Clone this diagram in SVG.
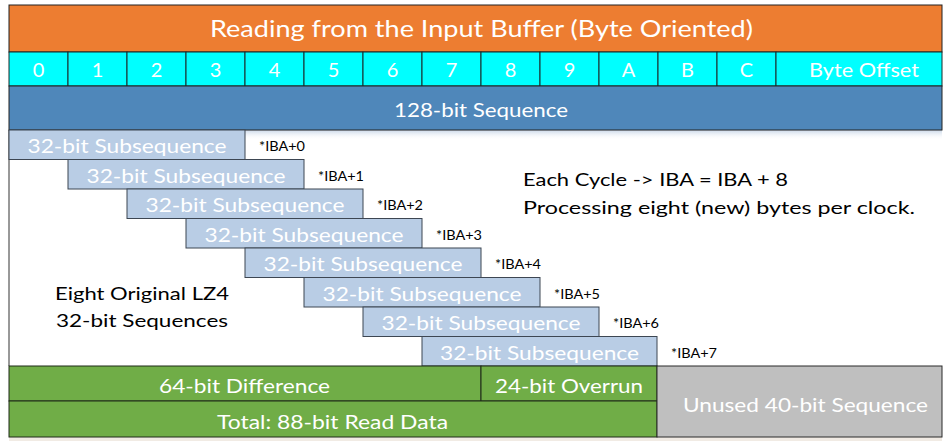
<svg xmlns="http://www.w3.org/2000/svg" width="943" height="441" viewBox="0 0 943 441">
<style>
  text { font-family: Lato, "Open Sans", "Liberation Sans", sans-serif; }
  .wt { fill: #ffffff; }
  .bk { fill: #000000; }
  .title { font-size: 24px; }
  .cell { fill: #00FFFF; stroke: #1a2a2a; stroke-width: 1; }
  .num { font-size: 20px; fill: #ffffff; text-anchor: middle; }
  .sub { fill: #B9CDE5; stroke: #3d4652; stroke-width: 1; }
  .subt { font-size: 20px; fill: #ffffff; text-anchor: middle; }
  .iba { font-size: 12.5px; fill: #000000; }
  .note { font-size: 18px; fill: #000000; }
  .grn { fill: #70AD47; stroke: #1f2a18; stroke-width: 1; }
  .gry { fill: #BFBFBF; stroke: #2a2a2a; stroke-width: 1; }
  .lbl { font-size: 19.5px; fill: #ffffff; text-anchor: middle; }
</style>
<defs>
  <linearGradient id="shadowTop" x1="0" y1="0" x2="0" y2="1">
    <stop offset="0" stop-color="#c9d7e8"/>
    <stop offset="1" stop-color="#ffffff" stop-opacity="0"/>
  </linearGradient>
</defs>
<rect x="0" y="0" width="943" height="441" fill="#ffffff"/>
<rect x="9" y="130" width="933" height="10" fill="url(#shadowTop)"/>
<rect x="9" y="437" width="933" height="4" fill="#f1ebe4"/>

<g id="title">
  <rect x="9" y="5" width="933" height="47" fill="#ED7D31" stroke="#222" stroke-width="1"/>
  <text class="title wt" x="481.5" y="37" text-anchor="middle" textLength="543" lengthAdjust="spacingAndGlyphs">Reading from the Input Buffer (Byte Oriented)</text>
</g>

<g id="byte-offsets">
  <rect class="cell" x="9" y="52" width="59" height="34"/>
  <rect class="cell" x="68" y="52" width="59" height="34"/>
  <rect class="cell" x="127" y="52" width="59" height="34"/>
  <rect class="cell" x="186" y="52" width="59" height="34"/>
  <rect class="cell" x="245" y="52" width="59" height="34"/>
  <rect class="cell" x="304" y="52" width="59" height="34"/>
  <rect class="cell" x="363" y="52" width="59" height="34"/>
  <rect class="cell" x="422" y="52" width="59" height="34"/>
  <rect class="cell" x="481" y="52" width="59" height="34"/>
  <rect class="cell" x="540" y="52" width="59" height="34"/>
  <rect class="cell" x="599" y="52" width="59" height="34"/>
  <rect class="cell" x="658" y="52" width="59" height="34"/>
  <rect class="cell" x="717" y="52" width="59" height="34"/>
  <rect class="cell" x="776" y="52" width="166" height="34"/>
  <text class="num" x="38.5" y="77">0</text>
  <text class="num" x="97.5" y="77">1</text>
  <text class="num" x="156.5" y="77">2</text>
  <text class="num" x="215.5" y="77">3</text>
  <text class="num" x="274.5" y="77">4</text>
  <text class="num" x="333.5" y="77">5</text>
  <text class="num" x="392.5" y="77">6</text>
  <text class="num" x="451.5" y="77">7</text>
  <text class="num" x="510.5" y="77">8</text>
  <text class="num" x="569.5" y="77">9</text>
  <text class="num" x="628.5" y="77">A</text>
  <text class="num" x="687.5" y="77">B</text>
  <text class="num" x="746.5" y="77">C</text>
  <text class="num" x="864" y="77" textLength="110" lengthAdjust="spacingAndGlyphs">Byte Offset</text>
</g>

<g id="seq128">
  <rect x="9" y="86" width="933" height="44" fill="#4F87BA" stroke="#222" stroke-width="1"/>
  <text class="lbl" x="481" y="116.5" textLength="174" lengthAdjust="spacingAndGlyphs">128-bit Sequence</text>
</g>

<line x1="9" y1="130" x2="9" y2="366" stroke="#333" stroke-width="1"/>

<g id="sub0">
  <rect class="sub" x="9" y="130" width="236" height="29.5"/>
  <text class="subt" x="127" y="153" textLength="199" lengthAdjust="spacingAndGlyphs">32-bit Subsequence</text>
  <text class="iba" x="259" y="151" textLength="46" lengthAdjust="spacingAndGlyphs">*IBA+0</text>
</g>
<g id="sub1">
  <rect class="sub" x="68" y="159.5" width="236" height="29.5"/>
  <text class="subt" x="186" y="182.5" textLength="199" lengthAdjust="spacingAndGlyphs">32-bit Subsequence</text>
  <text class="iba" x="318" y="180.5" textLength="46" lengthAdjust="spacingAndGlyphs">*IBA+1</text>
</g>
<g id="sub2">
  <rect class="sub" x="127" y="189" width="236" height="29.5"/>
  <text class="subt" x="245" y="212" textLength="199" lengthAdjust="spacingAndGlyphs">32-bit Subsequence</text>
  <text class="iba" x="377" y="210" textLength="46" lengthAdjust="spacingAndGlyphs">*IBA+2</text>
</g>
<g id="sub3">
  <rect class="sub" x="186" y="218.5" width="236" height="29.5"/>
  <text class="subt" x="304" y="241.5" textLength="199" lengthAdjust="spacingAndGlyphs">32-bit Subsequence</text>
  <text class="iba" x="436" y="239.5" textLength="46" lengthAdjust="spacingAndGlyphs">*IBA+3</text>
</g>
<g id="sub4">
  <rect class="sub" x="245" y="248" width="236" height="29.5"/>
  <text class="subt" x="363" y="271" textLength="199" lengthAdjust="spacingAndGlyphs">32-bit Subsequence</text>
  <text class="iba" x="495" y="269" textLength="46" lengthAdjust="spacingAndGlyphs">*IBA+4</text>
</g>
<g id="sub5">
  <rect class="sub" x="304" y="277.5" width="236" height="29.5"/>
  <text class="subt" x="422" y="300.5" textLength="199" lengthAdjust="spacingAndGlyphs">32-bit Subsequence</text>
  <text class="iba" x="554" y="298.5" textLength="46" lengthAdjust="spacingAndGlyphs">*IBA+5</text>
</g>
<g id="sub6">
  <rect class="sub" x="363" y="307" width="236" height="29.5"/>
  <text class="subt" x="481" y="330" textLength="199" lengthAdjust="spacingAndGlyphs">32-bit Subsequence</text>
  <text class="iba" x="613" y="328" textLength="46" lengthAdjust="spacingAndGlyphs">*IBA+6</text>
</g>
<g id="sub7">
  <rect class="sub" x="422" y="336.5" width="235" height="29.5"/>
  <text class="subt" x="539.5" y="359.5" textLength="199" lengthAdjust="spacingAndGlyphs">32-bit Subsequence</text>
  <text class="iba" x="671" y="357.5" textLength="46" lengthAdjust="spacingAndGlyphs">*IBA+7</text>
</g>

<g id="note-cycle">
  <text class="note" x="523" y="186" textLength="265" lengthAdjust="spacingAndGlyphs">Each Cycle -&gt; IBA = IBA + 8</text>
  <text class="note" x="523" y="213.5" textLength="392" lengthAdjust="spacingAndGlyphs">Processing eight (new) bytes per clock.</text>
</g>

<g id="note-lz4">
  <text class="note" x="142" y="299.5" text-anchor="middle" textLength="174" lengthAdjust="spacingAndGlyphs">Eight Original LZ4</text>
  <text class="note" x="142" y="327" text-anchor="middle" textLength="172" lengthAdjust="spacingAndGlyphs">32-bit Sequences</text>
</g>

<g id="diff64">
  <rect class="grn" x="9" y="366" width="472" height="35"/>
  <text class="lbl" x="244.5" y="392.5" textLength="171" lengthAdjust="spacingAndGlyphs">64-bit Difference</text>
</g>
<g id="overrun24">
  <rect class="grn" x="481" y="366" width="176" height="35"/>
  <text class="lbl" x="569" y="392.5" textLength="148" lengthAdjust="spacingAndGlyphs">24-bit Overrun</text>
</g>
<g id="total88">
  <rect class="grn" x="9" y="401" width="648" height="36"/>
  <text class="lbl" x="332.5" y="428.5" textLength="231" lengthAdjust="spacingAndGlyphs">Total: 88-bit Read Data</text>
</g>
<g id="unused40">
  <rect class="gry" x="657" y="366" width="285" height="71"/>
  <text class="lbl" x="805.5" y="411.5" textLength="245" lengthAdjust="spacingAndGlyphs">Unused 40-bit Sequence</text>
</g>

<g id="connectors"></g>
</svg>
